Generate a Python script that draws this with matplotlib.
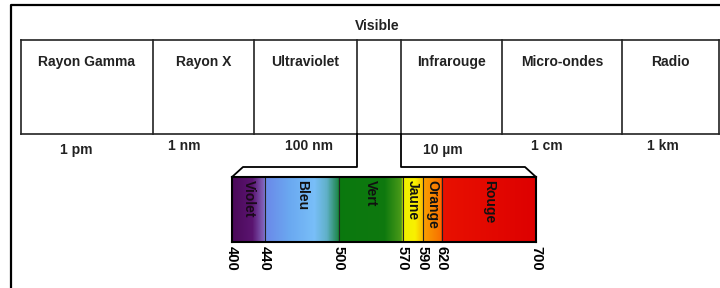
import numpy as np
import matplotlib
matplotlib.use("Agg")
import matplotlib.pyplot as plt
from matplotlib.colors import to_rgb

plt.rcParams['font.family'] = ['Liberation Sans', 'DejaVu Sans']

# data
regions = ["Rayon Gamma", "Rayon X", "Ultraviolet", "", "Infrarouge", "Micro-ondes", "Radio"]
visible_label = "Visible"
scale_labels = ["1 pm", "1 nm", "100 nm", "10 µm", "1 cm", "1 km"]
bands = ["Violet", "Bleu", "Vert", "Jaune", "Orange", "Rouge"]
band_edges = [400, 440, 500, 570, 590, 620, 700]

# colour stops along the spectrum (nm, colour)
stop_nm = [400, 425, 438, 440.5, 460, 480, 490, 499, 500.5, 550, 568, 570.5, 582, 589, 590.5, 618, 620.5, 700]
stop_col = ['#4a0858', '#5a1470', '#8060b8', '#6a88e8', '#6aa8f0', '#78bef8', '#60b0c8', '#208850',
            '#0a780e', '#0e780e', '#4a9a18', '#f0f000', '#f8f000', '#f8c000', '#f8a000', '#f87000',
            '#e81000', '#dd0000']

W, H = 720, 288
fig = plt.figure(figsize=(7.2, 2.88), dpi=100)
ax = fig.add_axes([0, 0, 1, 1])
ax.set_xlim(0, W)
ax.set_ylim(H, 0)
ax.axis('off')

fs = 10

# outer frame (left + top only visible)
ax.plot([11, 11, W], [H, 5, 5], color='black', lw=1.6, solid_capstyle='butt')

# row of boxes
box_x = [21, 153, 254, 357, 401, 502, 622, 719]
top, bot = 40, 134
ax.plot([box_x[0], box_x[-1]], [top, top], color='#222', lw=1.2)
ax.plot([box_x[0], box_x[-1]], [bot, bot], color='#222', lw=1.2)
for x in box_x:
    ax.plot([x, x], [top, bot], color='#222', lw=1.2)
for i, name in enumerate(regions):
    ax.text((box_x[i] + box_x[i + 1]) / 2, 62, name, ha='center', va='center',
            fontsize=fs, fontweight='bold', color='#222')
ax.text((box_x[3] + box_x[4]) / 2 - 2, 26, visible_label, ha='center', va='center',
        fontsize=fs, fontweight='bold', color='#222')

lab_x = [76, 184, 309, 443, 547, 663]
lab_y = [150, 146, 146, 150, 146, 146]
for x, y, s in zip(lab_x, lab_y, scale_labels):
    ax.text(x, y, s, ha='center', va='center', fontsize=fs, fontweight='bold', color='#222')

# connectors from the visible column to the spectrum
sx0, sx1, sy0, sy1 = 232, 536, 177, 242
ax.plot([357, 357, 243, sx0], [bot, 167, 167, sy0], color='black', lw=1.3)
ax.plot([401, 401, 525, sx1], [bot, 167, 167, sy0], color='black', lw=1.3)

# visible spectrum (drawn not to scale, like the original diagram)
band_disp = np.array([0, 33, 107, 171, 191, 210, 304]) / 304.0

def fwd(x):
    return np.interp(x, band_edges, band_disp)

def inv(y):
    return np.interp(y, band_disp, band_edges)

sax = fig.add_axes([sx0 / W, 1 - sy1 / H, (sx1 - sx0) / W, (sy1 - sy0) / H])
sax.set_xscale('function', functions=(fwd, inv))
nm = np.linspace(400, 700, 1201)
rgb = np.array([to_rgb(c) for c in stop_col])
mid_nm = (nm[:-1] + nm[1:]) / 2
cols = np.stack([np.interp(mid_nm, stop_nm, rgb[:, k]) for k in range(3)], axis=-1)[None, :, :]
sax.pcolormesh(nm, [0, 1], cols, shading='flat', edgecolors='none', antialiased=False)
sax.set_xlim(400, 700)
sax.set_ylim(0, 1)
for e in band_edges[1:-1]:
    sax.axvline(e, color='#222', lw=0.8)
for i, b in enumerate(bands):
    mid = inv((fwd(band_edges[i]) + fwd(band_edges[i + 1])) / 2)
    sax.text(mid, 0.95, b, rotation=270, ha='center', va='top', fontsize=fs,
             fontweight='bold', color='#1a0a1a' if i == 0 else '#111')
sax.set_yticks([])
sax.set_xticks(band_edges)
sax.set_xticklabels([str(e) for e in band_edges], rotation=270, fontsize=10.5, fontweight='bold')
sax.xaxis.set_minor_locator(matplotlib.ticker.NullLocator())
sax.tick_params(axis='x', length=0, pad=3)
for sp in sax.spines.values():
    sp.set_linewidth(1.5)
    sp.set_color('black')

fig.savefig('out.png', dpi=100)
